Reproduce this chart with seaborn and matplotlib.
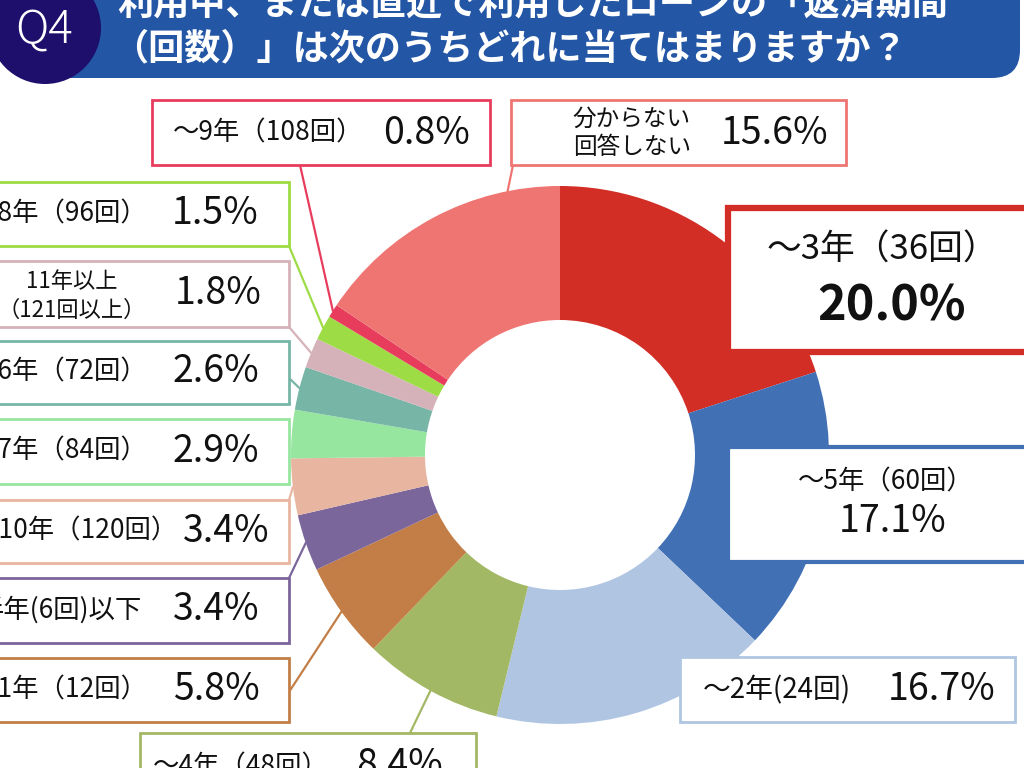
import matplotlib
matplotlib.use("Agg")
import matplotlib.pyplot as plt
import seaborn as sns
from matplotlib.patches import Rectangle, FancyBboxPatch, Circle
import numpy as np

# data (clockwise from top)
categories = ["〜3年（36回）", "〜5年（60回）", "〜2年(24回)", "〜4年（48回）", "〜1年（12回）",
              "半年(6回)以下", "〜10年（120回）", "〜7年（84回）", "〜6年（72回）",
              "11年以上\n（121回以上）", "〜8年（96回）", "〜9年（108回）", "分からない\n回答しない"]
shares = [20.0, 17.1, 16.7, 8.4, 5.8, 3.4, 3.4, 2.9, 2.6, 1.8, 1.5, 0.8, 15.6]
colors = ["#d22e25", "#4270b4", "#b0c5e2", "#a3b865", "#c27e46", "#7b669c", "#e8b6a0",
          "#96e6a0", "#77b5a6", "#d5b2b9", "#9edc45", "#e83c5d", "#ef7572"]
title_lines = ["利用中、または直近で利用したローンの「返済期間", "（回数）」は次のうちどれに当てはまりますか？"]

sns.set_theme(style="white")
plt.rcParams['font.family'] = ['Noto Sans CJK JP', 'DejaVu Sans']

fig = plt.figure(figsize=(10.24, 7.68), dpi=100)
ax = fig.add_axes([0, 0, 1, 1])

cx, cy, r_out, ring = 560, 455, 269, 134
wedges, _ = ax.pie(shares, colors=colors, startangle=-90, counterclock=True,
                   center=(cx, cy), radius=r_out, wedgeprops=dict(width=ring, linewidth=0))
ax.set_xlim(0, 1024)
ax.set_ylim(768, 0)
ax.set_aspect('equal')
ax.axis('off')

# callout layout: box, label (x, y, ha, size), pct (x, y, size, bold), line start, wedge fraction
layout = [
    dict(box=(728, 208, 1040, 352), lw=4.5, lab=(882, 250, 'center', 25), pct=(892, 306, 35, True), line=None),
    dict(box=(728, 447, 1040, 562), lw=3, lab=(886, 482, 'center', 19), pct=(893, 522, 27, False), line=None),
    dict(box=(680, 657, 1015, 722), lw=2, lab=(703, 690, 'left', 20), pct=(942, 690, 27, False), line=None),
    dict(box=(140, 733, 476, 800), lw=2, lab=(153, 767, 'left', 19), pct=(400, 766, 27, False), line=(410, 733)),
    dict(box=(-5, 658, 289, 722), lw=2, lab=(148, 690, 'right', 19), pct=(216, 690, 27, False), line=(289, 692)),
    dict(box=(-5, 578, 289, 643), lw=2, lab=(142, 610, 'right', 19), pct=(216, 610, 27, False), line=(289, 578)),
    dict(box=(-5, 500, 289, 563), lw=2, lab=(178, 531, 'right', 19), pct=(226, 531, 27, False), line=(289, 500)),
    dict(box=(-5, 419, 289, 484), lw=2, lab=(148, 451, 'right', 19), pct=(216, 451, 27, False), line=None),
    dict(box=(-5, 341, 289, 404), lw=2, lab=(148, 372, 'right', 19), pct=(216, 372, 27, False), line=(289, 378)),
    dict(box=(-5, 261, 289, 327), lw=2, lab=(72, 296, 'center', 16), pct=(218, 294, 27, False), line=(289, 327)),
    dict(box=(-5, 182, 289, 246), lw=2, lab=(148, 214, 'right', 19), pct=(215, 214, 27, False), line=(289, 246)),
    dict(box=(152, 100, 490, 165), lw=2, lab=(173, 133, 'left', 19), pct=(427, 133, 27, False), line=(300, 165)),
    dict(box=(511, 100, 846, 165), lw=2, lab=(632, 133, 'center', 17), pct=(775, 133, 27, False), line=(513, 165), frac=0.8),
]

for w, cat, val, col, lay in zip(wedges, categories, shares, colors, layout):
    x0, y0, x1, y1 = lay['box']
    if lay['line'] is not None:
        f = lay.get('frac', 0.5)
        th = np.deg2rad(w.theta1 + f * (w.theta2 - w.theta1))
        ex, ey = cx + r_out * np.cos(th), cy + r_out * np.sin(th)
        ax.plot([lay['line'][0], ex], [lay['line'][1], ey], color=col, lw=1.6, zorder=1)
    ax.add_patch(Rectangle((x0, y0), x1 - x0, y1 - y0, facecolor='white', edgecolor=col,
                           lw=lay['lw'], zorder=3))
    lx, ly, ha, fs = lay['lab']
    ax.text(lx, ly, cat, ha=ha, va='center', fontsize=fs, color='#111111',
            linespacing=1.3, zorder=4)
    px, py, pfs, bold = lay['pct']
    ax.text(px, py, f"{val:.1f}%", ha='center', va='center', fontsize=pfs,
            fontweight='bold' if bold else 'normal', color='#111111', zorder=4)

# title bar
ax.add_patch(FancyBboxPatch((20, -60), 1000, 138, boxstyle="round,pad=0,rounding_size=28",
                            facecolor='#2356a5', edgecolor='none', zorder=5))
ax.add_patch(Circle((45, 28), 56, facecolor='#1d0f6b', edgecolor='none', zorder=6))
ax.text(44, 30, "Q4", ha='center', va='center', fontsize=33, color='white',
        fontweight='light', zorder=7)
ax.text(117, 4, title_lines[0], ha='left', va='center', fontsize=26, color='white',
        fontweight='bold', zorder=7)
ax.text(112, 49, title_lines[1], ha='left', va='center', fontsize=26, color='white',
        fontweight='bold', zorder=7)

fig.savefig("out.png", dpi=100)
